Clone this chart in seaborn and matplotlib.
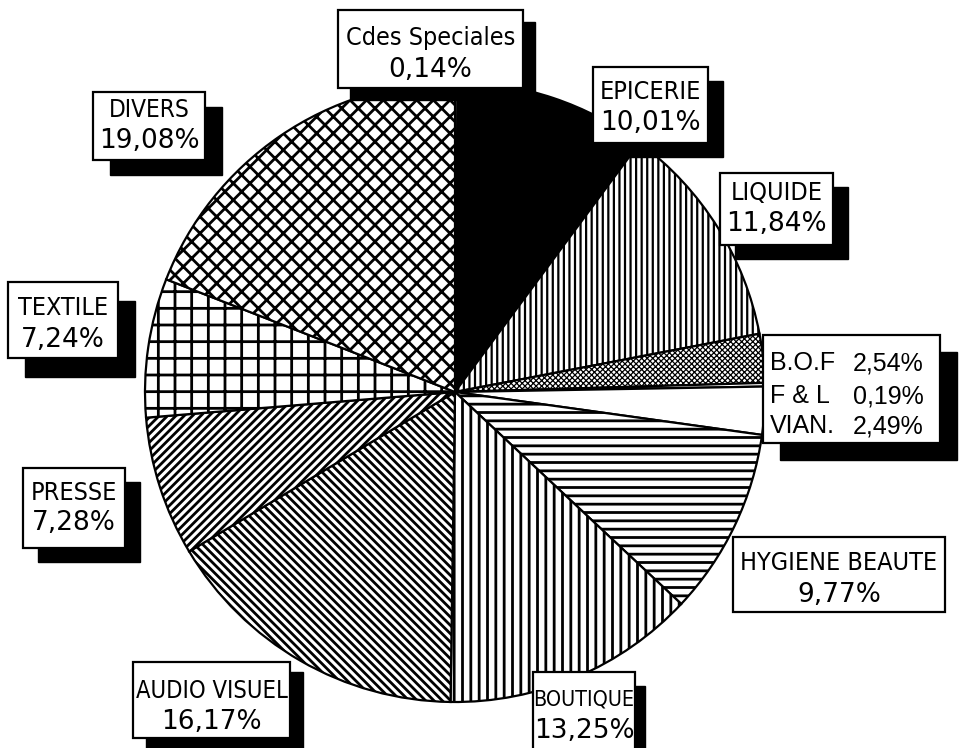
import matplotlib
matplotlib.use("Agg")
import matplotlib.pyplot as plt
from matplotlib import font_manager
from matplotlib.patches import Rectangle
import seaborn as sns

# Sales breakdown by department (percent of turnover)
departments = ["Cdes Speciales", "EPICERIE", "LIQUIDE", "B.O.F", "F & L", "VIAN.",
               "HYGIENE BEAUTE", "BOUTIQUE", "AUDIO VISUEL", "PRESSE", "TEXTILE", "DIVERS"]
shares = [0.14, 10.01, 11.84, 2.54, 0.19, 2.49, 9.77, 13.25, 16.17, 7.28, 7.24, 19.08]

# Fill style for each wedge
hatches = ["", "", "|||", "xxxxxx", "", "", "--", "||", "\\\\\\\\", "////", "+", "xx"]
fills = ["white", "black", "white", "white", "white", "white",
         "white", "white", "white", "white", "white", "white"]


def pct(v):
    return f"{v:.2f}".replace(".", ",") + "%"


W, H = 973, 748
sns.set_style("white")
plt.rcParams["hatch.linewidth"] = 2.0
plt.rcParams["hatch.color"] = "black"
plt.rcParams["text.color"] = "black"

# Narrow face for the department names when one is available
has_condensed = any(f.name == "DejaVu Sans" and f.stretch == "condensed"
                    for f in font_manager.fontManager.ttflist)
if has_condensed:
    NAME_STYLE = dict(family=["DejaVu Sans"], fontstretch="condensed")
else:
    NAME_STYLE = dict(family=["Liberation Sans", "DejaVu Sans"])

fig = plt.figure(figsize=(W / 100, H / 100), dpi=100)
ax = fig.add_axes([0, 0, 1, 1])

wedges, _ = ax.pie(shares, startangle=90, counterclock=False,
                   center=(455, H - 392), radius=310,
                   wedgeprops=dict(edgecolor="black", linewidth=1.6))
for w, hatch, fc in zip(wedges, hatches, fills):
    w.set_facecolor(fc)
    w.set_hatch(hatch)
    if hasattr(w, "set_hatch_linewidth"):
        if hatch == "xxxxxx":
            w.set_hatch_linewidth(0.9)
        elif hatch == "|||":
            w.set_hatch_linewidth(1.6)

ax.set_xlim(0, W)
ax.set_ylim(0, H)
ax.set_aspect("equal")
ax.axis("off")

VALUE_FONT = dict(family=["DejaVu Sans"], fontsize=19, color="black")


def framed_box(x0, y0, x1, y1, shadow=(15, 14)):
    # black drop shadow, then the white framed card
    if shadow is not None:
        dx, dy = shadow
        ax.add_patch(Rectangle((x0 + dx, H - y1 - dy), x1 - x0, y1 - y0,
                               facecolor="black", edgecolor="black", zorder=5))
    ax.add_patch(Rectangle((x0, H - y1), x1 - x0, y1 - y0,
                           facecolor="white", edgecolor="black", linewidth=1.6, zorder=6))


def card(idx, rect, name_y, value_y, name_size=18, shadow=(15, 14)):
    x0, y0, x1, y1 = rect
    framed_box(x0, y0, x1, y1, shadow)
    cx = (x0 + x1) / 2
    ax.text(cx, H - name_y, departments[idx], ha="center", va="center", zorder=7,
            fontsize=name_size, color="black", **NAME_STYLE)
    ax.text(cx, H - value_y, pct(shares[idx]), ha="center", va="center", zorder=7, **VALUE_FONT)


card(0, (338, 10, 523, 88), 38, 70, 18, (12, 12))
card(1, (593, 67, 708, 143), 92, 123, 18)
card(2, (720, 173, 833, 245), 193, 224, 18)
card(6, (733, 537, 945, 612), 563, 595, 18, None)
card(7, (533, 672, 635, 765), 700, 731, 15.5, (10, 14))
card(8, (133, 662, 290, 738), 691, 722, 17, (13, 10))
card(9, (23, 468, 125, 548), 493, 523, 18)
card(10, (8, 282, 118, 358), 308, 340, 18, (17, 19))
card(11, (93, 92, 205, 160), 110, 141, 17.5, (17, 15))

# Combined card for the three small fresh-food departments
framed_box(763, 335, 940, 443, (17, 17))
for idx, ly in zip([3, 4, 5], [363, 396, 426]):
    ax.text(770, H - ly, departments[idx], ha="left", va="center", zorder=7,
            family=["Liberation Sans", "DejaVu Sans"], fontsize=18, color="black")
    ax.text(853, H - ly, pct(shares[idx]), ha="left", va="center", zorder=7,
            family=["Liberation Sans", "DejaVu Sans"], fontsize=18, color="black")

fig.savefig("out.png", dpi=100, facecolor="white")
